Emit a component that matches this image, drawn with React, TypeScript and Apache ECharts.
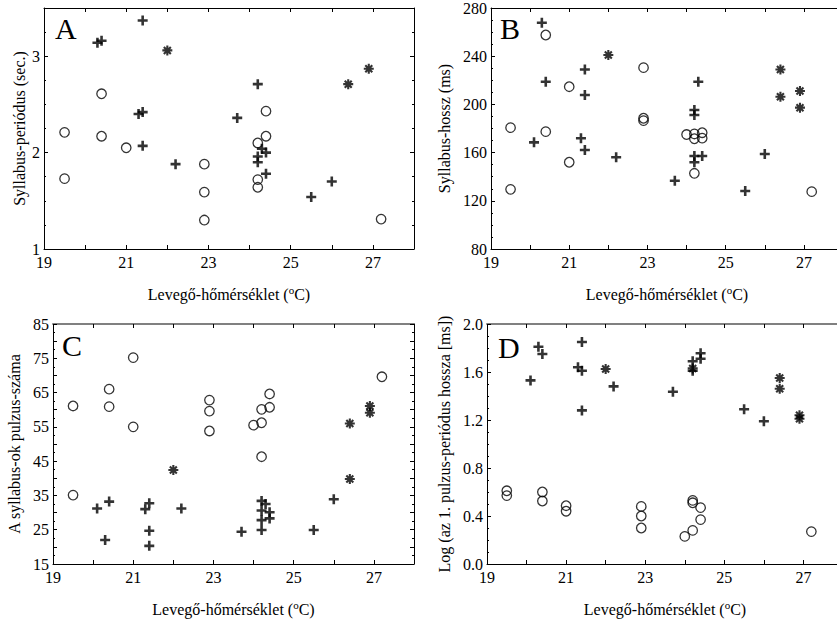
import React, { useEffect, useRef } from "react";
import * as echarts from "echarts";

// ---- data (temperature °C, value) ----
const aCircle = [[19.5,2.21],[19.5,1.73],[20.4,2.61],[20.4,2.17],[21.0,2.05],[22.9,1.88],[22.9,1.59],[22.9,1.30],[24.4,2.43],[24.4,2.17],[24.2,2.10],[24.2,1.72],[24.2,1.64],[27.2,1.31]];
const aPlus = [[21.4,3.37],[20.3,3.14],[20.4,3.16],[21.3,2.40],[21.4,2.42],[21.4,2.07],[22.2,1.88],[24.2,2.71],[23.7,2.36],[24.3,2.04],[24.4,2.00],[24.2,1.96],[24.2,1.90],[24.4,1.78],[26.0,1.70],[25.5,1.54]];
const aStar = [[22.0,3.06],[26.4,2.71],[26.9,2.87]];

const bCircle = [[20.4,257.6],[21.0,214.7],[19.5,180.7],[20.4,177.4],[21.0,152],[19.5,129.5],[22.9,230.5],[22.9,188.5],[22.9,186.5],[24.0,175],[24.2,175.5],[24.4,176.5],[24.2,171.5],[24.4,172],[24.2,142.8],[27.2,127.6]];
const bPlus = [[20.3,267.8],[21.4,229],[20.4,218.8],[21.4,207.8],[21.3,171.9],[20.1,168.5],[21.4,162.2],[22.2,156.1],[24.3,218.8],[24.2,195.4],[24.2,191.2],[24.2,157.2],[24.4,157.2],[24.2,152],[23.7,136.7],[26.0,158.8],[25.5,128.1]];
const bStar = [[22.0,241],[26.4,229],[26.4,206.4],[26.9,211.1],[26.9,197.3]];

const cCircle = [[21.0,75.2],[20.4,66.0],[19.5,61.1],[20.4,60.9],[21.0,55.0],[19.5,35.1],[22.9,62.8],[22.9,59.6],[22.9,53.8],[27.2,69.6],[24.4,64.6],[24.2,60.1],[24.4,60.7],[24.0,55.5],[24.2,56.2],[24.2,46.3]];
const cPlus = [[20.4,33.2],[20.1,31.2],[21.4,32.7],[21.3,31.0],[22.2,31.2],[21.4,24.7],[20.3,22.0],[21.4,20.3],[26.0,33.9],[24.2,33.4],[24.3,32.5],[24.2,30.6],[24.4,30.1],[24.2,27.8],[24.4,28.3],[24.2,24.9],[23.7,24.4],[25.5,24.9]];
const cStar = [[22.0,42.4],[26.4,56.0],[26.9,61.1],[26.9,59.1],[26.4,39.8]];

const dCircle = [[19.5,0.61],[19.5,0.57],[20.4,0.60],[20.4,0.525],[21.0,0.486],[21.0,0.44],[22.9,0.48],[22.9,0.40],[22.9,0.30],[24.2,0.53],[24.2,0.51],[24.4,0.47],[24.4,0.37],[24.2,0.28],[24.0,0.23],[27.2,0.27]];
const dPlus = [[21.4,1.85],[20.3,1.81],[20.4,1.75],[20.1,1.53],[21.3,1.64],[21.4,1.61],[22.2,1.48],[21.4,1.28],[24.4,1.756],[24.4,1.71],[24.2,1.69],[24.2,1.61],[23.7,1.436],[25.5,1.29],[26.0,1.19]];
const dStar = [[22.0,1.625],[24.2,1.63],[26.4,1.55],[26.4,1.46],[26.9,1.24],[26.9,1.21]];

const panelLetters = ["A", "B", "C", "D"];
const yNames = [
  "Syllabus-periódus (sec.)",
  "Syllabus-hossz (ms)",
  "A syllabus-ok pulzus-száma",
  "Log (az 1. pulzus-periódus hossza [ms])",
];
const xName = "Levegő-hőmérséklet ({sup|o}C)";
const xMin = 19, xMax = 28;
const yRanges = [
  { min: 1, max: 3.5, interval: 1, minor: 4 },
  { min: 80, max: 280, interval: 40, minor: 4 },
  { min: 15, max: 85, interval: 5, minor: 2 },
  { min: 0, max: 2, interval: 0.4, minor: 4 },
];

const FONT = "Liberation Serif";
const PLUS = "path://M3.7,0 H6.3 V3.7 H10 V6.3 H6.3 V10 H3.7 V6.3 H0 V3.7 H3.7 Z";
const STAR =
  "path://M0,3.95 L10,3.95 L10,6.05 L0,6.05 Z M6.05,0 L6.05,10 L3.95,10 L3.95,0 Z " +
  "M2.26,0.77 L9.23,7.74 L7.74,9.23 L0.77,2.26 Z M0.77,7.74 L7.74,0.77 L9.23,2.26 L2.26,9.23 Z";

const grids = [
  { left: 44, top: 8, width: 370, height: 241 },
  { left: 491, top: 8, width: 352, height: 241 },
  { left: 53, top: 324, width: 361, height: 240 },
  { left: 487, top: 324, width: 356, height: 240 },
];
const yNameGaps = [17, 39, 31, 35];
const letterPos = [[55, 13], [500, 13], [62, 330], [498, 332]];

export default function App() {
  const ref = useRef<HTMLDivElement>(null);
  useEffect(() => {
    if (!ref.current) return;
    const chart = echarts.init(ref.current, null, { renderer: "svg" });
    const black = "#000";
    const xAxes: any[] = [];
    const yAxes: any[] = [];
    grids.forEach((g, i) => {
      xAxes.push({
        type: "value", gridIndex: i, min: xMin, max: xMax, interval: 1, position: "bottom",
        axisLine: { onZero: false, lineStyle: { color: black, width: 1 } },
        axisTick: { inside: true, length: 4, lineStyle: { color: black } },
        axisLabel: {
          color: black, fontSize: 16, fontFamily: FONT, margin: 6, lineHeight: 14,
          formatter: (v: number) => ((Math.round(v) - 19) % 2 === 0 && v < 28 ? String(v) : ""),
        },
        splitLine: { show: false },
        name: xName, nameLocation: "middle", nameGap: 35,
        nameTextStyle: {
          color: black, fontSize: 16, fontFamily: FONT,
          rich: { sup: { fontSize: 11, fontFamily: FONT, color: black, verticalAlign: "top", padding: [0, 0, 9, 0] } },
        },
      });
    });
    grids.forEach((g, i) => {
      xAxes.push({
        type: "value", gridIndex: i, min: xMin, max: xMax, interval: 1, position: "top",
        axisLine: { onZero: false, lineStyle: { color: i >= 2 ? "#808080" : black, width: i >= 2 ? 2 : 1 } },
        axisTick: { inside: true, length: 4, lineStyle: { color: black } },
        axisLabel: { show: false },
        splitLine: { show: false },
      });
    });
    grids.forEach((g, i) => {
      const r = yRanges[i];
      yAxes.push({
        type: "value", gridIndex: i, min: r.min, max: r.max, interval: r.interval, position: "left",
        axisLine: { onZero: false, lineStyle: { color: black, width: 1 } },
        axisTick: { inside: true, length: 4, lineStyle: { color: black } },
        minorTick: { show: true, splitNumber: r.minor, length: 2, lineStyle: { color: black } },
        axisLabel: {
          color: black, fontSize: 16, fontFamily: FONT, margin: 4, lineHeight: 13,
          formatter: (v: number) => {
            if (i === 0) return Math.abs(v - Math.round(v)) < 1e-6 ? String(Math.round(v)) : "";
            if (i === 2) return Math.round(v - 15) % 10 === 0 ? String(Math.round(v)) : "";
            if (i === 3) return v.toFixed(1);
            return String(v);
          },
        },
        splitLine: { show: false },
        name: yNames[i], nameLocation: "middle", nameGap: yNameGaps[i],
        nameTextStyle: { color: black, fontSize: 16, fontFamily: FONT },
      });
    });
    grids.forEach((g, i) => {
      const r = yRanges[i];
      yAxes.push({
        type: "value", gridIndex: i, min: r.min, max: r.max, interval: r.interval, position: "right",
        axisLine: { onZero: false, lineStyle: { color: black, width: 1 } },
        axisTick: { inside: true, length: 4, lineStyle: { color: black } },
        minorTick: { show: true, splitNumber: r.minor, length: 2, lineStyle: { color: black } },
        axisLabel: { show: false },
        splitLine: { show: false },
      });
    });

    const panels = [
      [aCircle, aPlus, aStar],
      [bCircle, bPlus, bStar],
      [cCircle, cPlus, cStar],
      [dCircle, dPlus, dStar],
    ];
    const series: any[] = [];
    panels.forEach((p, i) => {
      series.push({
        type: "scatter", xAxisIndex: i, yAxisIndex: i, data: p[0], symbol: "circle", symbolSize: 9.5,
        itemStyle: { color: "rgba(0,0,0,0)", borderColor: black, borderWidth: 1.3 },
      });
      series.push({
        type: "scatter", xAxisIndex: i, yAxisIndex: i, data: p[1], symbol: PLUS, symbolSize: 10,
        itemStyle: { color: black },
      });
      series.push({
        type: "scatter", xAxisIndex: i, yAxisIndex: i, data: p[2], symbol: STAR, symbolSize: 10,
        itemStyle: { color: black },
      });
    });

    chart.setOption({
      animation: false,
      backgroundColor: "#fff",
      grid: grids.map((g) => ({ ...g, containLabel: false })),
      xAxis: xAxes,
      yAxis: yAxes,
      series,
      graphic: panelLetters.map((t, i) => ({
        type: "text", left: letterPos[i][0], top: letterPos[i][1],
        style: { text: t, fontSize: 30, fontFamily: FONT, fill: black },
      })),
    });
    return () => chart.dispose();
  }, []);
  return (
    <div style={{ position: "fixed", left: 0, top: 0, width: 837, height: 620, overflow: "hidden", background: "#fff" }}>
      <div ref={ref} style={{ width: 850, height: 620 }} />
    </div>
  );
}
